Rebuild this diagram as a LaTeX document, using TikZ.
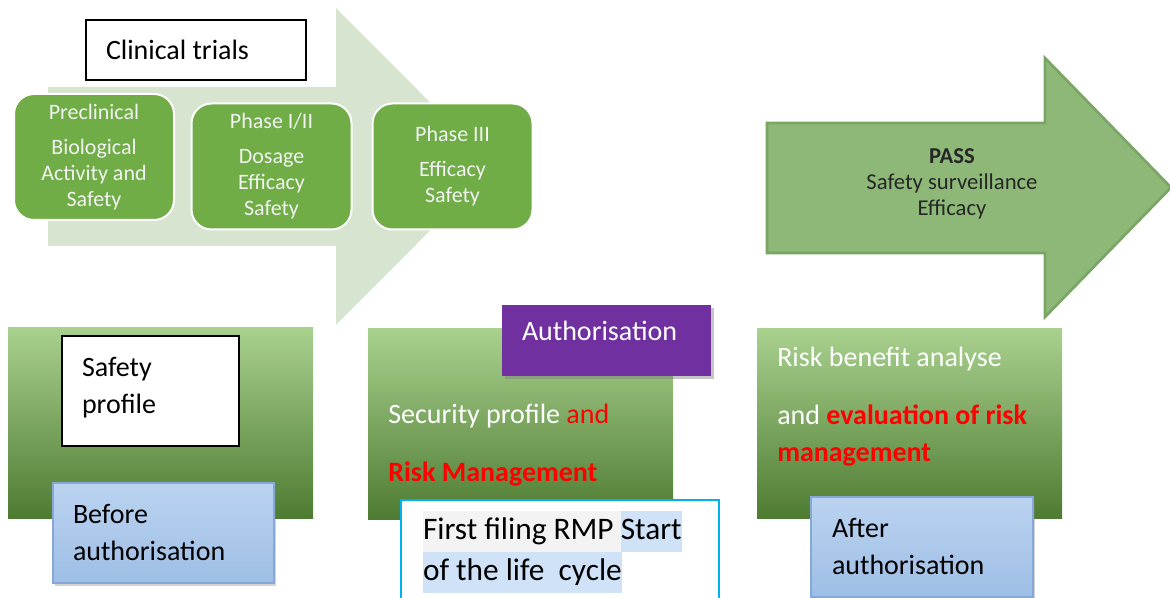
\documentclass[tikz,border=0pt]{standalone}
\usepackage{fontspec}
\setmainfont{Carlito}
\usetikzlibrary{shadows}

\definecolor{palegreen}{HTML}{D7E4D0}
\definecolor{phasegreen}{HTML}{70AD47}
\definecolor{stagetop}{HTML}{A9D18E}
\definecolor{stagemid}{HTML}{70AD47}
\definecolor{stagebot}{HTML}{4E7B32}
\definecolor{passgreen}{HTML}{8DB878}
\definecolor{passedge}{HTML}{7AA565}
\definecolor{bluetop}{HTML}{BBD3F0}
\definecolor{bluebot}{HTML}{9EBEE6}
\definecolor{blueedge}{HTML}{86A8D6}
\definecolor{authpurple}{HTML}{7030A0}
\definecolor{rmpcyan}{HTML}{00B0F0}
\definecolor{hlgray}{HTML}{F3F3F3}
\definecolor{hlblue}{HTML}{CFE2F8}

\newcommand\bodyfont{\fontsize{21}{27.75}\selectfont}
\newcommand\phasefont{\fontsize{16.5}{19.5}\selectfont}
\newcommand\rmpfont{\fontsize{23.5}{31}\selectfont}
\newcommand\passfont{\fontsize{17}{19.5}\selectfont}
\newcommand\marktext[2]{{\setlength{\fboxsep}{0pt}\colorbox{#1}{\strut#2}}}

\begin{document}
\begin{tikzpicture}[x=0.75pt, y=-0.75pt,
    phase/.style={draw=white, line width=1.5pt, fill=phasegreen, rounded corners=15pt,
        minimum width=120pt, minimum height=94.5pt, text=white!95!black, align=center, font=\phasefont},
    stage/.style={shading=axis, top color=stagetop, middle color=stagemid, bottom color=stagebot,
        minimum width=228.75pt, minimum height=142.5pt, inner sep=0pt},
    bluebox/.style={shading=axis, top color=bluetop, bottom color=bluebot, draw=blueedge, line width=0.8pt,
        drop shadow={opacity=0.35, shadow xshift=1.5pt, shadow yshift=-2pt},
        align=flush left, font=\bodyfont, inner xsep=15pt, minimum height=75pt},
    stagetext/.style={anchor=west, align=left, text=white, font=\bodyfont, inner sep=0pt}
    ]
    \useasboundingbox (0,0) rectangle (1170,598);
    \clip (0,0) rectangle (1170,598);

    % clinical trials arrow and its phases
    \fill[palegreen] (48,87) -- (336,87) -- (336,8) -- (494,166.5) -- (336,325) -- (336,246) -- (48,246) -- cycle;
    \node[draw, line width=1.2pt, fill=white, text width=135pt, inner xsep=15pt, minimum height=45pt,
        align=flush left, font=\bodyfont] (clinical) at (196,50) {Clinical trials};
    \node[phase] (preclin) at (94,157) {Preclinical\\[6.75pt]Biological\\Activity and\\Safety};
    \node[phase] (phase12) at (271.5,166.5) {Phase I/II\\[6.75pt]Dosage\\Efficacy\\Safety};
    \node[phase] (phase3) at (452.5,166.5) {Phase III\\[6.75pt]Efficacy\\Safety};

    % post authorisation arrow
    \draw[passedge, line width=2pt, fill=passgreen] (767,123) -- (1045,123) -- (1045,58) -- (1171,187.5)
        -- (1045,317) -- (1045,253) -- (767,253) -- cycle;
    \node[align=center, text=black!85, font=\passfont] (pass) at (952,184)
        {\textbf{PASS}\\Safety surveillance\\Efficacy};

    % the three stages
    \node[stage] (before) at (160.5,423) {};
    \node[stage] (auth) at (520.5,424) {};
    \node[stage] (after) at (909.5,423.5) {};

    \node[draw, line width=1pt, fill=white, text width=102.75pt, inner xsep=15pt, minimum height=82.5pt,
        text depth=36pt, align=flush left, font=\bodyfont] (safety) at (150.5,391) {Safety\\profile};
    \node[bluebox, text width=135.75pt] (beforelbl) at (163.5,533) {Before\\authorisation};

    \node[stagetext] (secprof) at (388,445)
        {Security profile \textcolor{red}{and}\\[15.75pt]\textcolor{red}{\bfseries Risk Management}};
    \node[fill=authpurple, text=white, text width=126.75pt, inner xsep=15pt, minimum height=53.25pt,
        text height=15pt, text depth=15pt, align=flush left, font=\bodyfont,
        drop shadow={opacity=0.45, shadow xshift=2.5pt, shadow yshift=-2.5pt}]
        (authlbl) at (606.5,340.5) {Authorisation};
    \node[draw=rmpcyan, line width=1.5pt, fill=white, anchor=north west, text width=205.5pt,
        inner xsep=16.5pt, minimum height=78pt, align=flush left, font=\rmpfont] (rmp) at (400,499)
        {\marktext{hlgray}{First filing RMP }\marktext{hlblue}{Start}\\\marktext{hlblue}{of the life\ \ cycle}};

    \node[stagetext] (riskben) at (777,407)
        {Risk benefit analyse\\[15.75pt]and \textcolor{red}{\bfseries evaluation of risk}\\\textcolor{red}{\bfseries management}};
    \node[bluebox, text width=135pt, inner xsep=15.75pt] (afterlbl) at (922,547) {After\\authorisation};
\end{tikzpicture}
\end{document}
